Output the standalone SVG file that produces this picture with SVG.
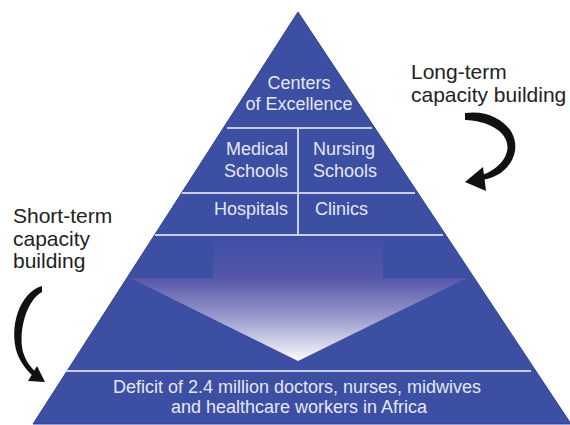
<svg xmlns="http://www.w3.org/2000/svg" width="570" height="425" viewBox="0 0 570 425">
<defs>
<linearGradient id="arrowGrad" gradientUnits="userSpaceOnUse" x1="0" y1="238" x2="0" y2="362">
<stop offset="0" stop-color="#3e4fa3"/>
<stop offset="0.33" stop-color="#5657a9"/>
<stop offset="0.65" stop-color="#9c9ccf"/>
<stop offset="1" stop-color="#ffffff"/>
</linearGradient>
<style>
.tri{fill:#3c4fa3;stroke:#2d3f90;stroke-width:1}
.div{stroke:#c9cde8;stroke-width:2;fill:none}
.in{font-family:"Liberation Sans",Arial,sans-serif;font-size:18px;fill:#e4e7f3}
.out{font-family:"Liberation Sans",Arial,sans-serif;font-size:21px;fill:#222222}
.curve{fill:#111111}
</style>
</defs>
<rect width="570" height="425" fill="#ffffff"/>
<g id="pyramid">
<polygon class="tri" points="298,12 33,424 571,424"/>
<path d="M213 237 L383 237 L383 278 L467 278 L298 361 L130 278 L213 278 Z" fill="url(#arrowGrad)"/>
</g>
<g id="dividers">
<line class="div" x1="227" y1="128" x2="372" y2="128"/>
<line class="div" x1="182" y1="193" x2="415" y2="193"/>
<line class="div" x1="155" y1="235" x2="443" y2="235"/>
<line class="div" x1="298" y1="128" x2="298" y2="235"/>
<line class="div" x1="66" y1="371" x2="531" y2="371"/>
</g>
<g id="centers">
<text class="in" x="299" y="89" text-anchor="middle">Centers</text>
<text class="in" x="299" y="110" text-anchor="middle">of Excellence</text>
</g>
<g id="medical">
<text class="in" x="288" y="155" text-anchor="end">Medical</text>
<text class="in" x="288" y="177" text-anchor="end">Schools</text>
</g>
<g id="nursing">
<text class="in" x="313" y="155">Nursing</text>
<text class="in" x="313" y="177">Schools</text>
</g>
<g id="hospitals">
<text class="in" x="288" y="215" text-anchor="end">Hospitals</text>
</g>
<g id="clinics">
<text class="in" x="315" y="215">Clinics</text>
</g>
<g id="deficit">
<text class="in" x="297" y="393" text-anchor="middle" font-size="17">Deficit of 2.4 million doctors, nurses, midwives</text>
<text class="in" x="299" y="413" text-anchor="middle" font-size="17">and healthcare workers in Africa</text>
</g>
<g id="long-term">
<text class="out" x="411" y="79">Long-term</text>
<text class="out" x="411" y="102">capacity building</text>
</g>
<g id="short-term">
<text class="out" x="13" y="223">Short-term</text>
<text class="out" x="13" y="246">capacity</text>
<text class="out" x="13" y="268">building</text>
</g>
<g id="connectors">
<path class="curve" d="M465 113 C498 108 525 134 512 160 C505 173 494 178 483 180 L482 175 C491 172 500 166 505 157 C515 137 494 121 465 120 Z"/>
<polygon class="curve" points="465,182 483,167 486,191"/>
<path class="curve" d="M42 286 L42 292 C27 300 18 330 23 352 C26 361 30 367 35 371 L33 376 C26 370 20 361 17 353 C9 327 19 293 42 286 Z"/>
<polygon class="curve" points="45,382 37,366 28,381"/>
</g>
</svg>
